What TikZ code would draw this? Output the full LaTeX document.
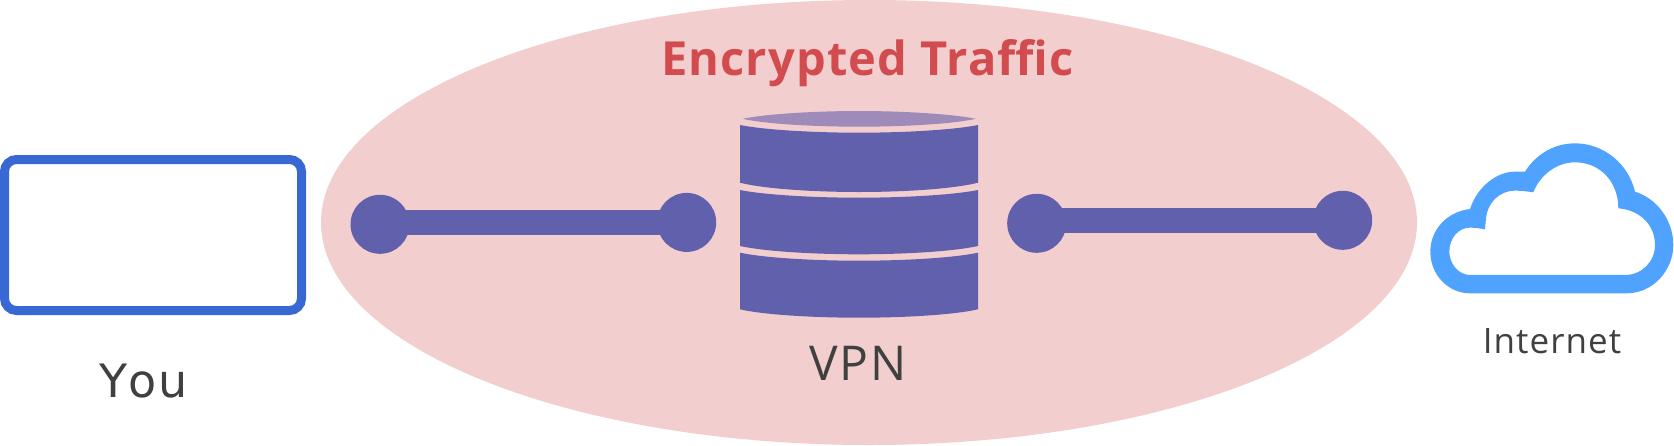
\documentclass[tikz,border=0pt]{standalone}
\usepackage{fontspec}
\setmainfont[LetterSpace=2.5,Kerning=Off]{DejaVu Sans}
\newfontfamily\ubfont{Open Sans}
\newfontfamily\ubtitle[LetterSpace=2.4]{Open Sans}
\newfontfamily\ubvpn[LetterSpace=3]{Open Sans}
\newfontfamily\ubnet[LetterSpace=3]{Open Sans}
\definecolor{pinkbg}{HTML}{F3CECE}
\definecolor{purp}{HTML}{6060AC}
\definecolor{lilac}{HTML}{9E8BBA}
\definecolor{bluebox}{HTML}{3868D4}
\definecolor{cloudblue}{HTML}{4FA3FF}
\definecolor{labelgrey}{HTML}{404040}
\definecolor{redtext}{HTML}{D24C4F}
\tikzset{
  endpoint/.style={circle,fill=purp,draw=none,minimum size=59pt,inner sep=0pt},
  linkbar/.style={draw=purp,line width=25pt},
  barrel/.style={fill=purp,draw=none},
  label/.style={text=labelgrey,inner sep=0pt,anchor=base},
}
\begin{document}
\begin{tikzpicture}[x=1pt,y=-1pt]
\useasboundingbox (0,0) rectangle (1674,445);
% encrypted zone
\fill[pinkbg] (869,222.5) ellipse [x radius=548,y radius=222.5];
% laptop box
\node[draw=bluebox,line width=9pt,rounded corners=12pt,fill=white,minimum width=297pt,minimum height=151pt,inner sep=0pt] (you) at (153,235) {};
% left link
\node[endpoint] (a1) at (380,224.3) {};
\node[endpoint] (a2) at (686.7,222.4) {};
\draw[linkbar] (a1.center |- a2.center) -- (a2.center);
% right link
\node[endpoint] (b1) at (1036.7,223.3) {};
\node[endpoint] (b2) at (1342.7,220.3) {};
\draw[linkbar] (b1.center |- b2.center) -- (b2.center);
% database
\fill[lilac] (742.7,118.8) .. controls (765,114) and (815,111) .. (859,111)
  .. controls (903,111) and (953,114) .. (975.7,118.8)
  .. controls (953,124) and (903,126.7) .. (859,126.7)
  .. controls (815,126.7) and (765,124) .. cycle;
\fill[barrel] (740,125) .. controls (765,130) and (815,132.7) .. (859,132.7)
  .. controls (903,132.7) and (953,130) .. (978,125)
  -- (978,182.7) .. controls (953,189) and (903,192) .. (859,192)
  .. controls (815,192) and (765,189) .. (740,182.7) -- cycle;
\fill[barrel] (740,190) .. controls (765,195) and (815,197.7) .. (859,197.7)
  .. controls (903,197.7) and (953,195) .. (978,190)
  -- (978,246) .. controls (953,251.5) and (903,254.3) .. (859,254.3)
  .. controls (815,254.3) and (765,251.5) .. (740,246) -- cycle;
\fill[barrel] (740,252.7) .. controls (765,258) and (815,260.7) .. (859,260.7)
  .. controls (903,260.7) and (953,258) .. (978,252.7)
  -- (978,309.3) .. controls (953,315) and (903,317.7) .. (859,317.7)
  .. controls (815,317.7) and (765,315) .. (740,309.3) -- cycle;
% cloud
\begin{scope}[shift={(1400,120)},x=0.3333pt,y=-0.3333pt]
\fill[cloudblue,even odd rule]
  (210,520) .. controls (145,520) and (91,465) .. (91,395)
  .. controls (91,330) and (140,275) .. (210,267)
  .. controls (232,200) and (290,155) .. (345,155)
  .. controls (355,155) and (365,155) .. (375,155)
  .. controls (410,100) and (465,70) .. (525,70)
  .. controls (610,70) and (685,130) .. (705,215)
  .. controls (770,235) and (820,300) .. (820,375)
  .. controls (820,450) and (760,520) .. (680,520) -- cycle
  (210,465) -- (675,465)
  .. controls (725,465) and (765,425) .. (765,375)
  .. controls (765,315) and (720,270) .. (655,265)
  .. controls (655,185) and (600,127) .. (525,127)
  .. controls (470,127) and (420,165) .. (400,217)
  .. controls (380,214) and (365,212) .. (345,212)
  .. controls (297,212) and (262,250) .. (258,295)
  -- (255,328)
  .. controls (240,325) and (225,323) .. (210,323)
  .. controls (175,323) and (148,355) .. (148,395)
  .. controls (148,430) and (175,465) .. (210,465) -- cycle;
\end{scope}
% labels
\node[label,font=\fontsize{46}{46}\selectfont] (youlab) at (143.5,397) {You};
\node[label,font=\ubvpn\fontsize{48}{48}\selectfont] (vpnlab) at (858,380) {VPN};
\node[label,font=\ubnet\fontsize{35}{35}\selectfont] (netlab) at (1552,353) {Internet};
\node[label,font=\ubtitle\bfseries\fontsize{47}{47}\selectfont,text=redtext] (title) at (867.5,75) {Encrypted Traffic};
\end{tikzpicture}
\end{document}
